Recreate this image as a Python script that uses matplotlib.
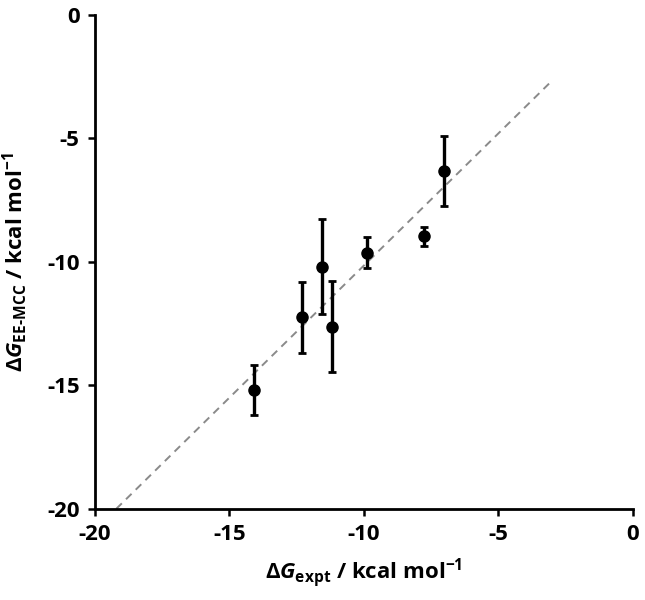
import numpy as np
import matplotlib
matplotlib.use("Agg")
import matplotlib.pyplot as plt

plt.rcParams["font.family"] = ["Open Sans", "DejaVu Sans"]
plt.rcParams["font.weight"] = "bold"
plt.rcParams["mathtext.fontset"] = "custom"
plt.rcParams["mathtext.rm"] = "Open Sans:bold"
plt.rcParams["mathtext.it"] = "Open Sans:italic:bold"
plt.rcParams["mathtext.bf"] = "Open Sans:bold"

dg_expt = [-14.09, -12.28, -11.57, -11.18, -9.89, -7.77, -7.03]
dg_calc = [-15.18, -12.24, -10.19, -12.62, -9.62, -8.97, -6.32]
dg_err = [1.01, 1.43, 1.91, 1.83, 0.61, 0.39, 1.42]
ticks = [-20, -15, -10, -5, 0]

fig = plt.figure(figsize=(6.45, 6.0), dpi=100)
ax = fig.add_axes([0.147, 0.152, 0.834, 0.823])

# linear regression trendline
slope, icpt = np.polyfit(dg_expt, dg_calc, 1)
x0 = (-20 - icpt) / slope
xl = np.array([x0, -3.1])
ax.plot(xl, slope * xl + icpt, ls=(0, (4, 3)), color="#8a8a8a", lw=1.4, zorder=1)

ax.errorbar(dg_expt, dg_calc, yerr=dg_err, fmt="o", color="black", ms=8,
            elinewidth=2.4, capsize=3.2, capthick=2, zorder=3)

ax.set_xlim(-20, 0)
ax.set_ylim(-20, 0)
ax.set_xticks(ticks)
ax.set_yticks(ticks)
ax.set_xticklabels([str(t) for t in ticks])
ax.set_yticklabels([str(t) for t in ticks])
for s in ("top", "right"):
    ax.spines[s].set_visible(False)
for s in ("left", "bottom"):
    ax.spines[s].set_linewidth(2)
ax.tick_params(width=1.8, length=5, labelsize=16, pad=6)
for lab in ax.get_xticklabels() + ax.get_yticklabels():
    lab.set_fontweight("bold")

ax.set_xlabel(r"Δ$\mathit{G}_{\mathrm{expt}}$ / kcal mol$^{−1}$", fontsize=16,
              fontweight="bold", labelpad=8)
ax.set_ylabel(r"Δ$\mathit{G}_{\mathrm{EE\text{-}MCC}}$ / kcal mol$^{−1}$", fontsize=16,
              fontweight="bold", labelpad=12)

fig.savefig("out.png", dpi=100)
